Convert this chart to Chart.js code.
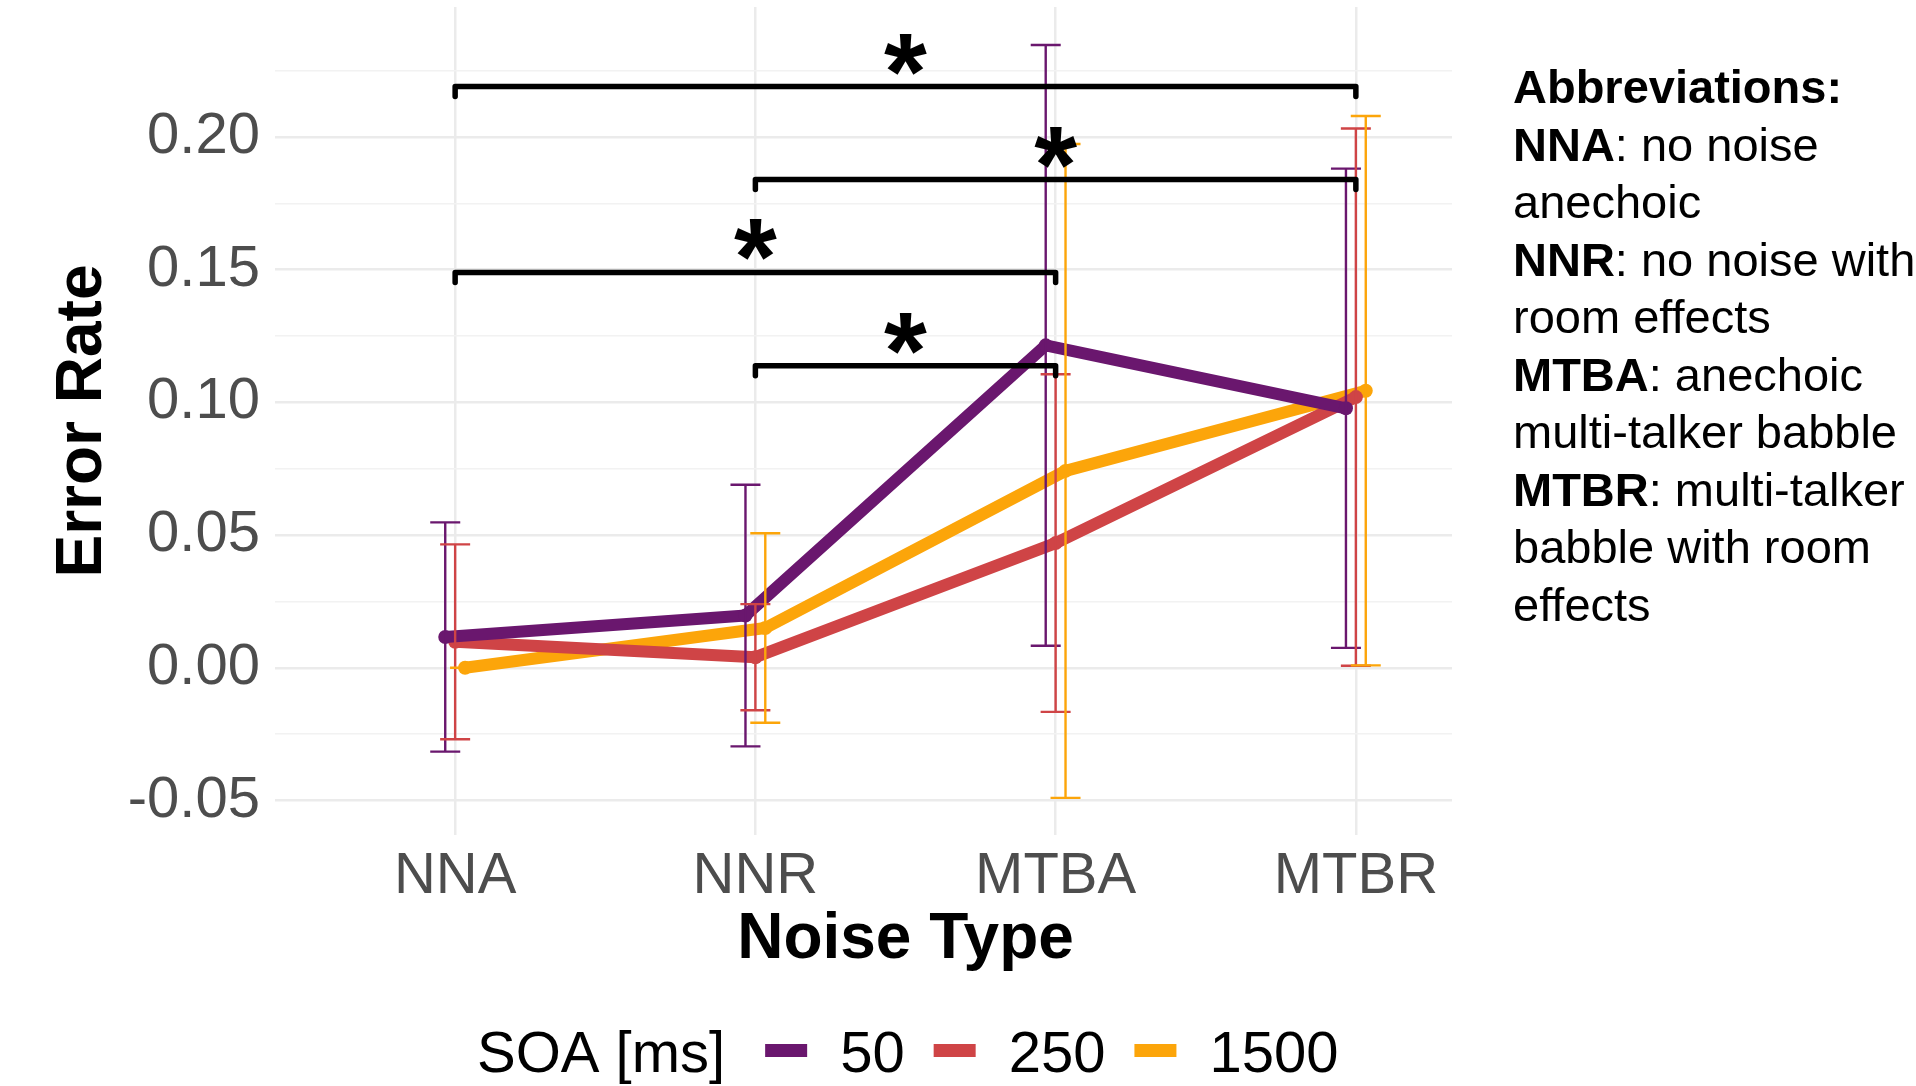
<!DOCTYPE html>
<html>
<head>
<meta charset="utf-8">
<script src="https://cdn.jsdelivr.net/npm/chart.js@4.4.1/dist/chart.umd.min.js"></script>
<style>
  html, body { margin: 0; padding: 0; background: #fff; }
  #wrap { width: 1916px; height: 1086px; }
</style>
</head>
<body>
<div id="wrap"><canvas id="errChart" width="1916" height="1086"></canvas></div>
<script>
// categories on the x axis
const noiseTypes = ['NNA', 'NNR', 'MTBA', 'MTBR'];

// SOA groups
const soaLabels = ['50', '250', '1500'];
const soaColors = ['#6a176e', '#cf4446', '#fca50a'];

// mean error rate per noise type
const mean50   = [0.0116, 0.0197, 0.1215, 0.0978];
const mean250  = [0.0098, 0.0040, 0.0470, 0.1020];
const mean1500 = [0.0000, 0.0150, 0.0742, 0.1044];

// half length of the error bars
const err50   = [0.0432, 0.0493, 0.1132, 0.0903];
const err250  = [0.0367, 0.0200, 0.0636, 0.1012];
const err1500 = [0.0000, 0.0357, 0.1232, 0.1035];

// y axis ticks
const yMajor = [-0.05, 0.00, 0.05, 0.10, 0.15, 0.20];
const yMinor = [-0.025, 0.025, 0.075, 0.125, 0.175, 0.225];

// significance brackets
const sigFrom = [0, 1, 0, 1];
const sigTo   = [3, 3, 2, 2];
const sigY    = [0.219, 0.184, 0.149, 0.1138];
const sigText = ['*', '*', '*', '*'];

const noteLines = [
    ['Abbreviations:', ''],
    ['NNA', ': no noise'],
    ['', 'anechoic'],
    ['NNR', ': no noise with'],
    ['', 'room effects'],
    ['MTBA', ': anechoic'],
    ['', 'multi-talker babble'],
    ['MTBR', ': multi-talker'],
    ['', 'babble with room'],
    ['', 'effects']
];

const means = [mean50, mean250, mean1500];
const errs = [err50, err250, err1500];
const dodge = [-0.033, 0, 0.033];
const FONT = '"Liberation Sans", Arial, sans-serif';

const datasets = soaLabels.map((lab, s) => ({
    label: lab,
    data: means[s].map((v, i) => ({ x: i + dodge[s], y: v })),
    borderColor: soaColors[s],
    backgroundColor: soaColors[s],
    borderWidth: 12,
    pointRadius: 7,
    pointBorderWidth: 0,
    tension: 0,
    borderJoinStyle: 'round'
}));

const extras = {
    id: 'extras',
    afterDatasetsDraw(chart) {
        const c = chart.ctx;
        const xs = chart.scales.x, ys = chart.scales.y;
        c.save();
        // error bars
        c.lineWidth = 2.4;
        means.forEach((m, s) => {
            c.strokeStyle = soaColors[s];
            m.forEach((v, i) => {
                const x = xs.getPixelForValue(i + dodge[s]);
                const y1 = ys.getPixelForValue(v - errs[s][i]);
                const y2 = ys.getPixelForValue(v + errs[s][i]);
                c.beginPath();
                c.moveTo(x, y1); c.lineTo(x, y2);
                c.moveTo(x - 15, y1); c.lineTo(x + 15, y1);
                c.moveTo(x - 15, y2); c.lineTo(x + 15, y2);
                c.stroke();
            });
        });
        // brackets
        c.strokeStyle = '#000';
        c.fillStyle = '#000';
        c.lineWidth = 5.5;
        c.lineCap = 'round';
        c.lineJoin = 'round';
        c.font = 'bold 110px ' + FONT;
        c.textAlign = 'center';
        c.textBaseline = 'alphabetic';
        sigY.forEach((v, k) => {
            const x1 = xs.getPixelForValue(sigFrom[k]);
            const x2 = xs.getPixelForValue(sigTo[k]);
            const y = ys.getPixelForValue(v);
            c.beginPath();
            c.moveTo(x1, y + 10); c.lineTo(x1, y); c.lineTo(x2, y); c.lineTo(x2, y + 10);
            c.stroke();
            const m = c.measureText(sigText[k]);
            c.fillText(sigText[k], (x1 + x2) / 2, y - 12 - m.actualBoundingBoxDescent);
        });
        c.restore();
    },
    afterDraw(chart) {
        const c = chart.ctx;
        const area = chart.chartArea;
        c.save();
        // the note box hides the right end of the panel
        c.fillStyle = '#fff';
        c.fillRect(1452, 0, chart.width - 1452, area.bottom + 2);
        // notes on the right
        c.fillStyle = '#000';
        c.textAlign = 'left';
        c.textBaseline = 'alphabetic';
        noteLines.forEach((ln, k) => {
            const y = 103 + k * 57.5;
            let x = 1513;
            if (ln[0]) {
                c.font = 'bold 47px ' + FONT;
                c.fillText(ln[0], x, y);
                x += c.measureText(ln[0]).width;
            }
            if (ln[1]) {
                c.font = '47px ' + FONT;
                c.fillText(ln[1], x, y);
            }
        });
        // legend
        c.font = '58px ' + FONT;
        let lx = 477;
        const ly = 1072;
        c.fillText('SOA [ms]', lx, ly);
        lx += c.measureText('SOA [ms]').width + 40;
        soaLabels.forEach((lab, s) => {
            c.fillStyle = soaColors[s];
            c.fillRect(lx, 1044, 42, 13);
            lx += 75;
            c.fillStyle = '#000';
            c.fillText(lab, lx, ly);
            lx += c.measureText(lab).width + 29;
        });
        c.restore();
    }
};

new Chart(document.getElementById('errChart').getContext('2d'), {
    type: 'line',
    data: { datasets: datasets },
    options: {
        responsive: false,
        animation: false,
        layout: { padding: { left: 0, right: 380, top: 3, bottom: 0 } },
        plugins: { legend: { display: false }, tooltip: { enabled: false } },
        scales: {
            x: {
                type: 'linear',
                min: -0.6,
                max: 3.6,
                afterBuildTicks: ax => { ax.ticks = noiseTypes.map((n, i) => ({ value: i })); },
                afterFit: ax => { ax.height = 251; ax.paddingLeft = 0; ax.paddingRight = 0; },
                border: { display: false },
                grid: { color: '#ebebeb', lineWidth: 2.5, drawTicks: false },
                ticks: {
                    autoSkip: false, maxRotation: 0, padding: 7,
                    color: '#4d4d4d',
                    font: { family: FONT, size: 58 },
                    callback: v => noiseTypes[Math.round(v)]
                },
                title: {
                    display: true, text: 'Noise Type', color: '#000',
                    font: { family: FONT, size: 64, weight: 'bold' },
                    padding: { top: 0, bottom: 107 }
                }
            },
            y: {
                min: -0.063,
                max: 0.249,
                afterBuildTicks: ax => {
                    ax.ticks = yMajor.concat(yMinor).sort((a, b) => a - b).map(v => ({ value: v }));
                },
                afterFit: ax => { ax.width = 275; ax.paddingTop = 0; ax.paddingBottom = 0; },
                border: { display: false },
                grid: {
                    drawTicks: false,
                    color: ctx => yMajor.some(v => Math.abs(v - ctx.tick.value) < 1e-6) ? '#ebebeb' : '#f2f2f2',
                    lineWidth: ctx => yMajor.some(v => Math.abs(v - ctx.tick.value) < 1e-6) ? 2.6 : 1.5
                },
                ticks: {
                    padding: 15,
                    color: '#4d4d4d',
                    font: { family: FONT, size: 58 },
                    callback: v => yMajor.some(m => Math.abs(m - v) < 1e-6) ? v.toFixed(2) : ''
                },
                title: {
                    display: true, text: 'Error Rate', color: '#000',
                    font: { family: FONT, size: 64, weight: 'bold' },
                    padding: { top: 45, bottom: 0 }
                }
            }
        }
    },
    plugins: [extras]
});
</script>
</body>
</html>
